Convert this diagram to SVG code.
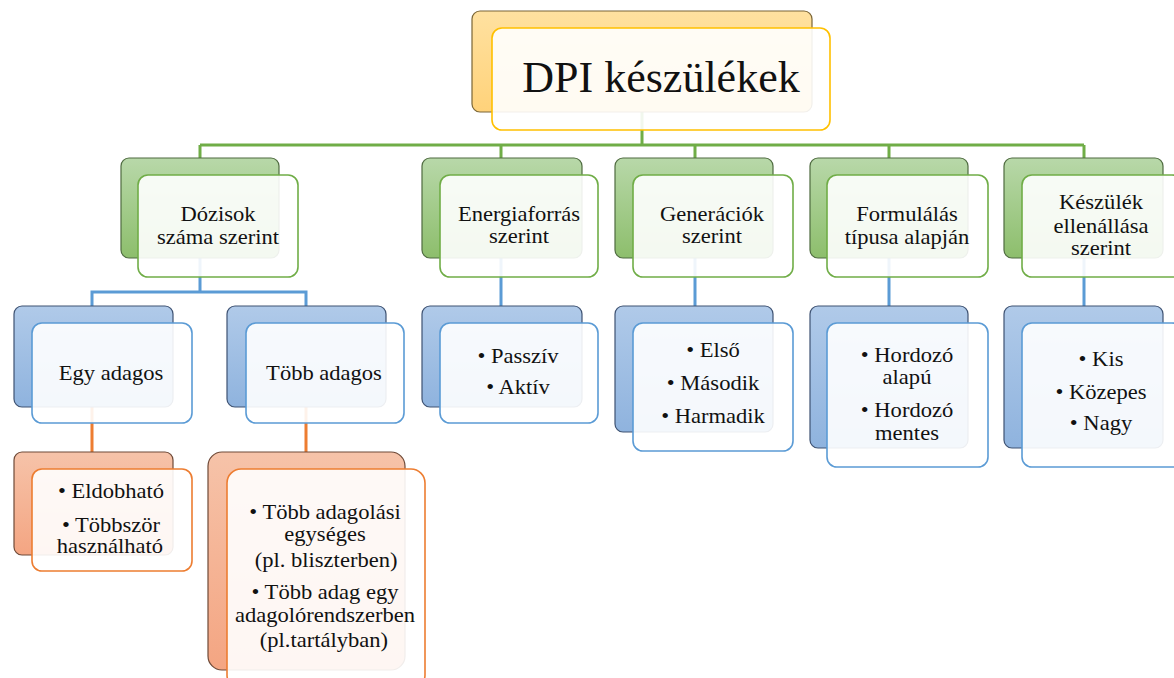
<svg xmlns="http://www.w3.org/2000/svg" width="1174" height="678" viewBox="0 0 1174 678">
<defs>
<linearGradient id="gY" x1="0" y1="0" x2="0" y2="1"><stop offset="0" stop-color="#ffe1a0"/><stop offset="1" stop-color="#ffd27a"/></linearGradient>
<linearGradient id="gG" x1="0" y1="0" x2="0" y2="1"><stop offset="0" stop-color="#b8d8a9"/><stop offset="1" stop-color="#8dbe6c"/></linearGradient>
<linearGradient id="gB" x1="0" y1="0" x2="0" y2="1"><stop offset="0" stop-color="#b0cae9"/><stop offset="1" stop-color="#8fb3de"/></linearGradient>
<linearGradient id="gO" x1="0" y1="0" x2="0" y2="1"><stop offset="0" stop-color="#f6c3a9"/><stop offset="1" stop-color="#f4a582"/></linearGradient>
</defs>
<style>
text{font-family:"Liberation Serif","Times New Roman",serif;fill:#111;text-anchor:middle;font-size:20.5px}
.t0{font-size:44px}
.bkY{fill:url(#gY);stroke:#7a6536;stroke-width:1.2}
.bkG{fill:url(#gG);stroke:#4f6b40;stroke-width:1.2}
.bkB{fill:url(#gB);stroke:#3e5272;stroke-width:1.2}
.bkO{fill:url(#gO);stroke:#6e4a38;stroke-width:1.2}
.fr{fill:#ffffff;fill-opacity:0.9;stroke-width:1.6}
.fY{stroke:#ffc000}.fG{stroke:#70ad47}.fB{stroke:#5b9bd5}.fO{stroke:#ed7d31}
.cG{stroke:#70ad47;stroke-width:3;fill:none}
.cB{stroke:#5b9bd5;stroke-width:3;fill:none}
.cO{stroke:#ed7d31;stroke-width:3;fill:none}
</style>
<g id="connectors">
<path class="cG" d="M642,112 V145 M200,145 H1084 M200,145 V158 M501,145 V158 M695,145 V158 M889,145 V158 M1084,145 V158"/>
<path class="cB" d="M200,258 V292 M92,292 H306 M92,290.5 V306 M306,290.5 V306 M501,258 V306 M695,258 V306 M889,258 V306 M1084,258 V306"/>
<path class="cO" d="M92,407 V452 M306,407 V452"/>
</g>
<g id="n-root">
<rect class="bkY" x="472" y="11" width="340" height="101" rx="8"/>
<rect class="fr fY" x="492" y="28" width="338" height="102" rx="10"/>
<text class="t0" x="661" y="92">DPI készülékek</text>
</g>
<g id="n-dozis">
<rect class="bkG" x="121" y="158" width="158" height="100" rx="8"/>
<rect class="fr fG" x="138" y="175" width="160" height="102" rx="10"/>
<g transform="translate(218 0) scale(1.1 1)">
<text x="0" y="221">Dózisok</text>
<text x="0" y="244">száma szerint</text>
</g>
</g>
<g id="n-energia">
<rect class="bkG" x="422" y="158" width="160" height="100" rx="8"/>
<rect class="fr fG" x="440" y="175" width="158" height="102" rx="10"/>
<g transform="translate(519 0) scale(1.1 1)">
<text x="0" y="221">Energiaforrás</text>
<text x="0" y="243">szerint</text>
</g>
</g>
<g id="n-gen">
<rect class="bkG" x="615" y="158" width="158" height="100" rx="8"/>
<rect class="fr fG" x="633" y="175" width="160" height="102" rx="10"/>
<g transform="translate(712 0) scale(1.1 1)">
<text x="0" y="221">Generációk</text>
<text x="0" y="243">szerint</text>
</g>
</g>
<g id="n-form">
<rect class="bkG" x="810" y="158" width="158" height="100" rx="8"/>
<rect class="fr fG" x="827" y="175" width="161" height="102" rx="10"/>
<g transform="translate(907 0) scale(1.1 1)">
<text x="0" y="221">Formulálás</text>
<text x="0" y="244">típusa alapján</text>
</g>
</g>
<g id="n-kesz">
<rect class="bkG" x="1004" y="158" width="159" height="100" rx="8"/>
<rect class="fr fG" x="1022" y="175" width="160" height="102" rx="10"/>
<g transform="translate(1101 0) scale(1.1 1)">
<text x="0" y="209">Készülék</text>
<text x="0" y="233">ellenállása</text>
<text x="0" y="255">szerint</text>
</g>
</g>
<g id="n-egy">
<rect class="bkB" x="14" y="306" width="159" height="101" rx="8"/>
<rect class="fr fB" x="32" y="323" width="160" height="100" rx="10"/>
<g transform="translate(111 0) scale(1.1 1)">
<text x="0" y="380">Egy adagos</text>
</g>
</g>
<g id="n-tobb">
<rect class="bkB" x="227" y="306" width="159" height="101" rx="8"/>
<rect class="fr fB" x="246" y="323" width="158" height="100" rx="10"/>
<g transform="translate(324 0) scale(1.1 1)">
<text x="0" y="380">Több adagos</text>
</g>
</g>
<g id="n-passziv">
<rect class="bkB" x="422" y="306" width="160" height="101" rx="8"/>
<rect class="fr fB" x="440" y="323" width="158" height="100" rx="10"/>
<g transform="translate(518 0) scale(1.1 1)">
<text x="0" y="363">• Passzív</text>
<text x="0" y="394">• Aktív</text>
</g>
</g>
<g id="n-elso">
<rect class="bkB" x="615" y="306" width="158" height="126" rx="8"/>
<rect class="fr fB" x="633" y="323" width="160" height="128" rx="10"/>
<g transform="translate(713 0) scale(1.1 1)">
<text x="0" y="357">• Első</text>
<text x="0" y="390">• Második</text>
<text x="0" y="423">• Harmadik</text>
</g>
</g>
<g id="n-hordozo">
<rect class="bkB" x="810" y="306" width="158" height="142" rx="8"/>
<rect class="fr fB" x="827" y="323" width="161" height="144" rx="10"/>
<g transform="translate(907 0) scale(1.1 1)">
<text x="0" y="362">• Hordozó</text>
<text x="0" y="384">alapú</text>
<text x="0" y="417">• Hordozó</text>
<text x="0" y="440">mentes</text>
</g>
</g>
<g id="n-kis">
<rect class="bkB" x="1004" y="306" width="159" height="142" rx="8"/>
<rect class="fr fB" x="1022" y="323" width="160" height="144" rx="10"/>
<g transform="translate(1101 0) scale(1.1 1)">
<text x="0" y="366">• Kis</text>
<text x="0" y="399">• Közepes</text>
<text x="0" y="430">• Nagy</text>
</g>
</g>
<g id="n-eldob">
<rect class="bkO" x="14" y="452" width="159" height="103" rx="8"/>
<rect class="fr fO" x="32" y="469" width="160" height="102" rx="10"/>
<g transform="translate(111 0) scale(1.1 1)">
<text x="0" y="498">• Eldobható</text>
<text x="0" y="532">• Többször</text>
<text x="-1" y="553">használható</text>
</g>
</g>
<g id="n-tobbadag">
<rect class="bkO" x="208" y="452" width="197" height="218" rx="14"/>
<rect class="fr fO" x="227" y="469" width="198" height="220" rx="14"/>
<g transform="translate(325 0) scale(1.1 1)">
<text x="0" y="519">• Több adagolási</text>
<text x="0" y="541">egységes</text>
<text x="1" y="567">(pl. bliszterben)</text>
<text x="0" y="599">• Több adag egy</text>
<text x="0" y="622">adagolórendszerben</text>
<text x="-1" y="647">(pl.tartályban)</text>
</g>
</g>
</svg>
